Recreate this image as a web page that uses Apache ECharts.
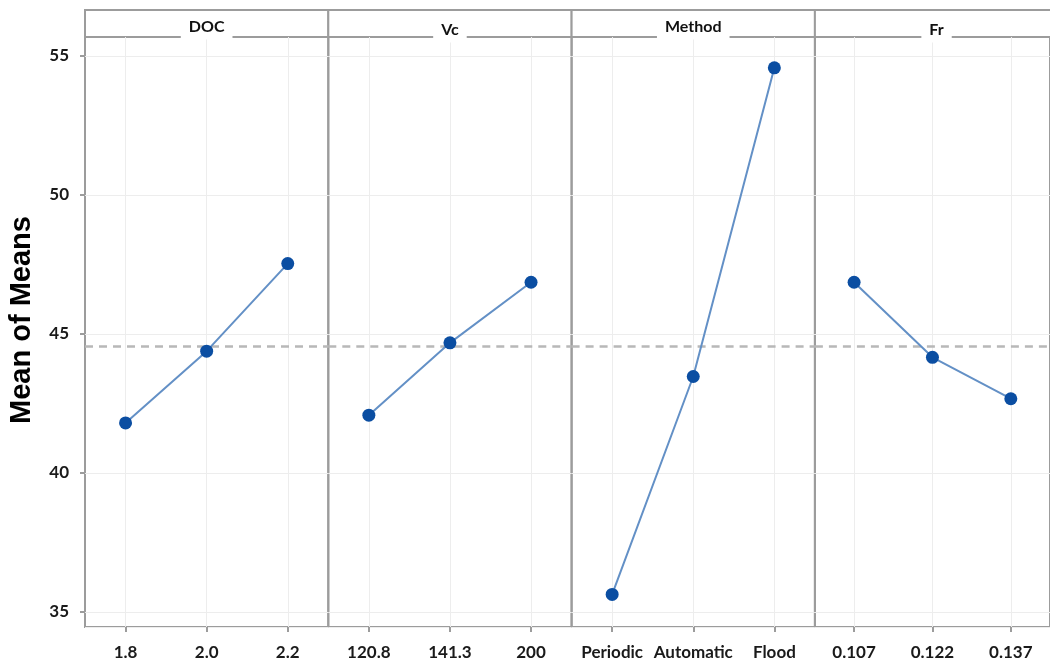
<!DOCTYPE html>
<html>
<head>
<meta charset="utf-8">
<script src="https://cdn.jsdelivr.net/npm/echarts@6/dist/echarts.min.js"></script>
<style>html,body{margin:0;padding:0;background:#fff;}#chart{width:1050px;height:664px;}</style>
</head>
<body>
<div id="chart"></div>
<script>
// ---- data ----
const factors = ['DOC', 'Vc', 'Method', 'Fr'];
const docLevels = ['1.8', '2.0', '2.2'];
const docMeans = [41.80, 44.38, 47.53];
const vcLevels = ['120.8', '141.3', '200'];
const vcMeans = [42.08, 44.68, 46.86];
const methodLevels = ['Periodic', 'Automatic', 'Flood'];
const methodMeans = [35.63, 43.47, 54.57];
const frLevels = ['0.107', '0.122', '0.137'];
const frMeans = [46.86, 44.16, 42.67];
const grandMean = 44.55;
const yMin = 34.46, yMax = 55.68;
const yAxisTitle = 'Mean of Means';

const levels = [docLevels, vcLevels, methodLevels, frLevels];
const means = [docMeans, vcMeans, methodMeans, frMeans];

// ---- layout / style ----
const L = 85, PW = 243.3, GT = 37, GB = 37, HT = 10;
const headerDy = [0, 3, 0, 3];
const borderCol = '#9c9c9c';
const gridCol = '#ededed';
const lineCol = '#6390c6';
const dotCol = '#0b4ea2';
const labelFont = 'Lato, "Open Sans", sans-serif';

const grids = factors.map((f, i) => ({
  left: L + i * PW, top: GT, width: PW, bottom: GB,
  show: true, borderColor: borderCol, borderWidth: 2, backgroundColor: 'transparent'
}));

const xAxes = factors.map((f, i) => ({
  type: 'category', gridIndex: i, data: levels[i], boundaryGap: true,
  axisLine: { show: false },
  axisTick: { show: true, alignWithLabel: true, length: 5, lineStyle: { color: borderCol, width: 2 } },
  axisLabel: { interval: 0, hideOverlap: false, fontSize: 17, fontWeight: 'bold', color: '#1a1a1a',
               margin: 17, fontFamily: labelFont },
  splitLine: { show: false }
}));

const yAxes = factors.map((f, i) => ({
  type: 'value', gridIndex: i, min: yMin, max: yMax, minInterval: 5, maxInterval: 5,
  axisLine: { show: false },
  axisTick: { show: i === 0, length: 5, lineStyle: { color: borderCol, width: 2 } },
  axisLabel: { show: i === 0, showMinLabel: false, showMaxLabel: false, fontSize: 17, fontWeight: 'bold',
               color: '#1a1a1a', margin: 16, fontFamily: labelFont },
  splitLine: { show: true, lineStyle: { color: gridCol, width: 1 } },
  name: i === 0 ? yAxisTitle : '',
  nameLocation: 'middle', nameRotate: 90, nameGap: 49,
  nameTextStyle: { fontFamily: '"Liberation Sans", Arial, sans-serif', fontWeight: 'bold', fontSize: 29,
                   color: '#000', padding: [0, 0, 0, 24] }
}));

const series = factors.map((f, i) => ({
  type: 'line', xAxisIndex: i, yAxisIndex: i, data: means[i],
  symbol: 'circle', symbolSize: 13,
  lineStyle: { color: lineCol, width: 2 },
  itemStyle: { color: dotCol },
  z: 5,
  markLine: {
    silent: true, symbol: 'none', label: { show: false },
    data: [
      ...levels[i].map((lv, k) => ({ xAxis: k, lineStyle: { color: gridCol, width: 1, type: 'solid' } })),
      { yAxis: grandMean, lineStyle: { color: '#b8b8b8', width: 2.5, type: [8, 6] } }
    ]
  }
}));

const graphics = [];
factors.forEach((f, i) => {
  graphics.push({
    type: 'rect', z: 1,
    shape: { x: L + i * PW, y: HT, width: PW, height: GT - HT },
    style: { fill: '#fff', stroke: borderCol, lineWidth: 2 }
  });
});
factors.forEach((f, i) => {
  graphics.push({
    type: 'text', z: 10,
    style: {
      text: f, x: L + (i + 0.5) * PW, y: 27 + headerDy[i], align: 'center', verticalAlign: 'middle',
      font: 'bold 16px ' + labelFont, lineHeight: 18, fill: '#111',
      backgroundColor: '#fff', padding: [4, 8, 3, 8]
    }
  });
});

const chart = echarts.init(document.getElementById('chart'), null, { renderer: 'canvas' });
chart.setOption({
  animation: false,
  backgroundColor: '#fff',
  grid: grids,
  xAxis: xAxes,
  yAxis: yAxes,
  series: series,
  graphic: graphics
});
</script>
</body>
</html>
